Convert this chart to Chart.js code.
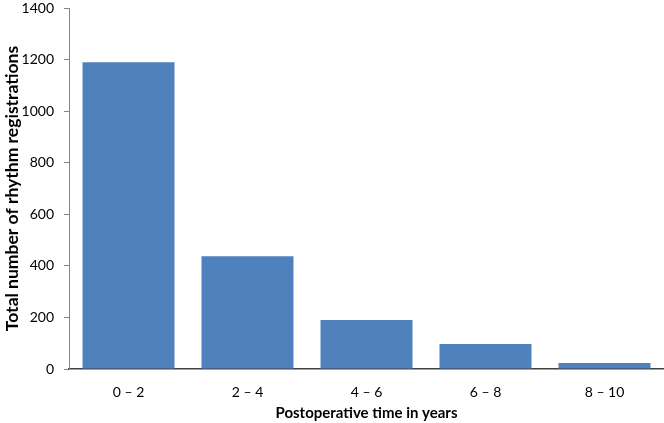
<!DOCTYPE html>
<html>
<head>
<meta charset="utf-8">
<script src="https://cdn.jsdelivr.net/npm/chart.js@4/dist/chart.umd.min.js"></script>
<style>
html,body{margin:0;padding:0;background:#fff;}
#wrap{width:664px;height:423px;position:relative;}
</style>
</head>
<body>
<div id="wrap"><canvas id="c" width="664" height="423"></canvas></div>
<script>
const categories = ["0 \u2013 2", "2 \u2013 4", "4 \u2013 6", "6 \u2013 8", "8 \u2013 10"];
const registrations = [1190, 437, 190, 97, 23];
const yTicks = [0, 200, 400, 600, 800, 1000, 1200, 1400];

const FONT = "Lato, 'Liberation Sans', sans-serif";

new Chart(document.getElementById('c'), {
  type: 'bar',
  data: {
    labels: categories,
    datasets: [{
      data: registrations,
      backgroundColor: '#4F81BD',
      borderWidth: 0,
      barPercentage: 0.773,
      categoryPercentage: 1.0
    }]
  },
  options: {
    responsive: false,
    animation: false,
    layout: { padding: { top: 8, right: 0, left: 0, bottom: 0 } },
    plugins: { legend: { display: false }, tooltip: { enabled: false } },
    scales: {
      x: {
        grid: { display: false },
        border: { display: true, color: '#404040', width: 1.5 },
        ticks: { color: '#000', font: { family: FONT, size: 14 }, padding: 7, maxRotation: 0 },
        title: { display: true, text: 'Postoperative time in years', color: '#000',
                 font: { family: FONT, size: 15, weight: 'bold' }, padding: { top: 2, bottom: 1 } },
        afterFit: s => { s.height = 54; s.paddingLeft = 0; s.paddingRight = 0; }
      },
      y: {
        min: 0, max: 1400,
        afterBuildTicks: s => { s.ticks = yTicks.map(v => ({ value: v })); },
        grid: { drawOnChartArea: false, drawTicks: true, tickLength: 5, color: '#868686' },
        border: { display: true, color: '#868686', width: 1 },
        ticks: { color: '#000', font: { family: FONT, size: 14 }, padding: 10,
                 callback: v => String(v) },
        title: { display: true, text: 'Total number of rhythm registrations', color: '#000',
                 font: { family: FONT, size: 17.5, weight: 'bold' }, padding: { top: 2, bottom: 2 } },
        afterFit: s => { s.width = 69; s.paddingTop = 0; s.paddingBottom = 0; }
      }
    }
  }
});
</script>
</body>
</html>
